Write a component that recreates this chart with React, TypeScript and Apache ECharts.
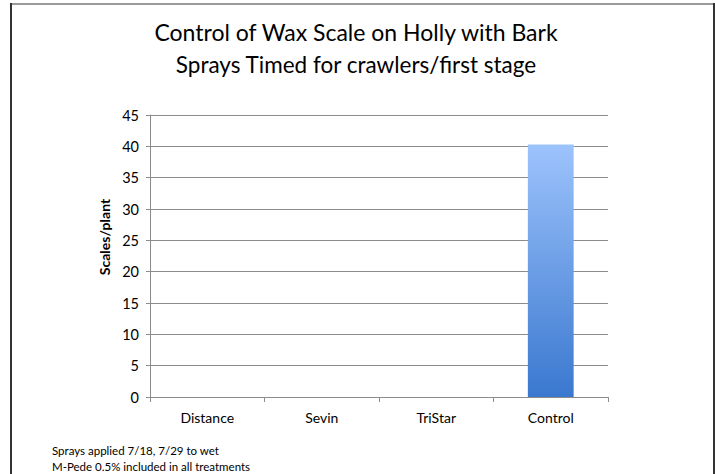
import React, { useEffect, useRef } from "react";
import * as echarts from "echarts";

const categories = ["Distance", "Sevin", "TriStar", "Control"];
const scalesPerPlant = [0, 0, 0, 40.3];
const titleLines = ["Control of Wax Scale on Holly with Bark", "Sprays Timed for crawlers/first stage"];
const yAxisName = "Scales/plant";
const footnotes = ["Sprays applied 7/18, 7/29 to wet", "M-Pede 0.5% included in all treatments"];

const FONT = "Lato, 'Open Sans', sans-serif";

export default function App() {
  const ref = useRef<HTMLDivElement>(null);
  useEffect(() => {
    if (!ref.current) return;
    const chart = echarts.init(ref.current, undefined, { renderer: "svg" });
    chart.setOption({
      animation: false,
      backgroundColor: "#ffffff",
      textStyle: { fontFamily: FONT },
      grid: { left: 150, right: 107, top: 115, bottom: 77 },
      xAxis: {
        type: "category",
        data: categories,
        axisLine: { lineStyle: { color: "#8c8c8c", width: 1 } },
        axisTick: { show: true, length: 5, lineStyle: { color: "#8c8c8c" } },
        axisLabel: { color: "#000", fontSize: 14, margin: 13, fontFamily: FONT },
        splitLine: { show: false },
      },
      yAxis: {
        type: "value",
        min: 0,
        max: 45,
        interval: 5,
        axisLine: { show: true, lineStyle: { color: "#8c8c8c", width: 1 } },
        axisTick: { show: true, length: 4, lineStyle: { color: "#8c8c8c" } },
        axisLabel: { color: "#000", fontSize: 14.5, margin: 11, fontFamily: FONT },
        splitLine: { show: true, lineStyle: { color: "#8c8c8c", width: 1 } },
      },
      series: [
        {
          type: "bar",
          data: scalesPerPlant,
          barWidth: "40%",
          itemStyle: {
            color: new echarts.graphic.LinearGradient(0, 0, 0, 1, [
              { offset: 0, color: "#9dc3fc" },
              { offset: 1, color: "#3a78cf" },
            ]),
          },
        },
      ],
      graphic: [
        { type: "line", shape: { x1: 11, y1: 4, x2: 714, y2: 4 }, style: { stroke: "#9a9a9a", lineWidth: 2 } },
        { type: "line", shape: { x1: 11, y1: 3, x2: 11, y2: 474 }, style: { stroke: "#333", lineWidth: 2 } },
        { type: "line", shape: { x1: 714, y1: 3, x2: 714, y2: 474 }, style: { stroke: "#333", lineWidth: 2 } },
        {
          type: "text",
          x: 356,
          y: 32,
          style: { text: titleLines[0], fontSize: 23, fontFamily: FONT, fill: "#000", align: "center", verticalAlign: "middle" },
        },
        {
          type: "text",
          x: 356,
          y: 64,
          style: { text: titleLines[1], fontSize: 22.5, fontFamily: FONT, fill: "#000", align: "center", verticalAlign: "middle" },
        },
        {
          type: "text",
          x: 104,
          y: 237,
          rotation: Math.PI / 2,
          style: { text: yAxisName, fontSize: 14, fontWeight: "bold", fontFamily: FONT, fill: "#000", align: "center", verticalAlign: "middle" },
        },
        {
          type: "text",
          x: 52,
          y: 450,
          style: { text: footnotes[0], fontSize: 11.5, fontFamily: FONT, fill: "#000", align: "left", verticalAlign: "middle" },
        },
        {
          type: "text",
          x: 52,
          y: 466,
          style: { text: footnotes[1], fontSize: 11.5, fontFamily: FONT, fill: "#000", align: "left", verticalAlign: "middle" },
        },
      ],
    });
    return () => chart.dispose();
  }, []);
  return <div ref={ref} style={{ position: "fixed", left: 0, top: 0, width: 715, height: 474 }} />;
}
